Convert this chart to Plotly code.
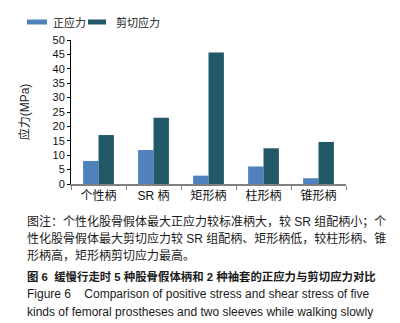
import plotly.graph_objects as go

categories = ["个性柄", "SR 柄", "矩形柄", "柱形柄", "锥形柄"]
normal_stress = [8.0, 11.8, 2.9, 6.1, 2.0]
shear_stress = [17.0, 23.0, 45.7, 12.4, 14.6]
series_names = ["正应力", "剪切应力"]
colors = ["#4F81BD", "#215968"]
y_ticks = list(range(0, 55, 5))

caption_lines = [
    "图注：个性化股骨假体最大正应力较标准柄大，较 SR 组配柄小；个",
    "性化股骨假体最大剪切应力较 SR 组配柄、矩形柄低，较柱形柄、锥",
    "形柄高，矩形柄剪切应力最高。",
    "<b>图 6\u00a0\u00a0缓慢行走时 5 种股骨假体柄和 2 种袖套的正应力与剪切应力对比</b>",
    "Figure 6\u00a0\u00a0\u00a0\u00a0Comparison of positive stress and shear stress of five",
    "kinds of femoral prostheses and two sleeves while walking slowly",
]
caption_y = [213, 230, 247, 268, 286, 304]
caption_size = [12, 12, 12, 11.4, 12, 12]

FONT = "Liberation Sans, Arial, Noto Sans CJK SC, sans-serif"

W, H = 400, 323
L, R, T, B = 63, 62, 32, 147
PW, PH = W - L - R, H - T - B


def px(x):
    return (x - L) / PW


def py(y):
    return (H - B - y) / PH


fig = go.Figure()
for name, vals, c in zip(series_names, [normal_stress, shear_stress], colors):
    fig.add_trace(go.Bar(x=categories, y=vals, name=name, marker=dict(color=c, line=dict(width=0)),
                         showlegend=False))

annotations = []
shapes = []
# manual legend
leg = [(19, 39, 43, series_names[0], colors[0]), (80, 98, 106, series_names[1], colors[1])]
for x0, x1, tx, name, c in leg:
    shapes.append(dict(type="rect", xref="paper", yref="paper", x0=px(x0), x1=px(x1),
                       y0=py(16.5), y1=py(11.5), fillcolor=c, line=dict(width=0)))
    annotations.append(dict(text=name, xref="paper", yref="paper", x=px(tx), y=py(14),
                            xanchor="left", yanchor="middle", showarrow=False,
                            font=dict(size=11, color="#222", family=FONT)))

for line, yy, sz in zip(caption_lines, caption_y, caption_size):
    annotations.append(dict(text=line, xref="paper", yref="paper", x=px(17), y=py(yy),
                            xanchor="left", yanchor="middle", showarrow=False,
                            font=dict(size=sz, color="#1a1a1a", family=FONT)))

fig.update_layout(
    width=W, height=H,
    margin=dict(l=L, r=R, t=T, b=B),
    paper_bgcolor="white", plot_bgcolor="white",
    barmode="group", bargap=0.44, bargroupgap=0,
    font=dict(family=FONT, color="#111", size=11),
    shapes=shapes,
    annotations=annotations,
    xaxis=dict(showgrid=False, showline=True, linecolor="#808080", linewidth=2,
               ticks="outside", tickson="boundaries", ticklen=4, tickcolor="#808080",
               tickfont=dict(size=12, color="#111"), fixedrange=True),
    yaxis=dict(range=[0, 50], tickvals=y_ticks, showgrid=False, zeroline=False,
               showline=True, linecolor="#000", linewidth=1, ticks="outside", ticklen=3,
               tickcolor="#000", tickfont=dict(size=11, color="#111"),
               title=dict(text="应力(MPa)", font=dict(size=12, color="#222"), standoff=20)),
)

fig.write_html("out.html")
